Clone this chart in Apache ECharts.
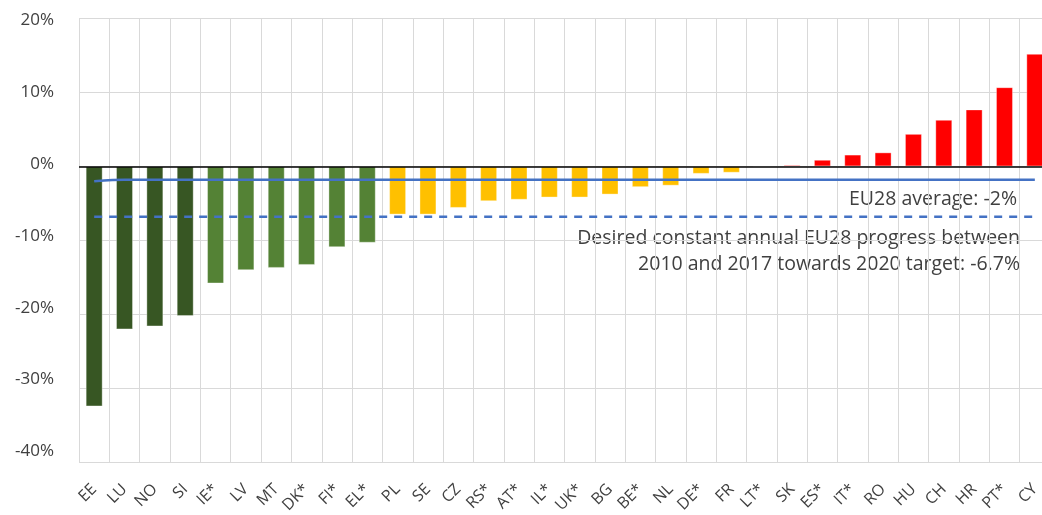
<!DOCTYPE html>
<html>
<head>
<meta charset="utf-8">
<script src="https://cdn.jsdelivr.net/npm/echarts@6/dist/echarts.min.js"></script>
<style>html,body{margin:0;padding:0;background:#fff}#c{width:1042px;height:515px}</style>
</head>
<body>
<div id="c"></div>
<script>
const categories = ['EE','LU','NO','SI','IE*','LV','MT','DK*','FI*','EL*','PL','SE','CZ','RS*','AT*','IL*','UK*','BG','BE*','NL','DE*','FR','LT*','SK','ES*','IT*','RO','HU','CH','HR','PT*','CY'];
const changeValues = [-32.4,-22.0,-21.6,-20.2,-15.8,-14.0,-13.7,-13.3,-10.9,-10.3,-6.5,-6.5,-5.6,-4.7,-4.5,-4.2,-4.2,-3.8,-2.8,-2.6,-1.0,-0.85,0,0.2,0.9,1.6,1.9,4.4,6.3,7.7,10.7,15.2];
const groupIndex = [0,0,0,0,1,1,1,1,1,1,2,2,2,2,2,2,2,2,2,2,2,2,2,3,3,3,3,3,3,3,3,3];
const groupColors = ['#375623','#548235','#FFC000','#FF0000'];
const avgValues = [-2.0,-1.8,-1.8,-1.8,-1.8,-1.8,-1.8,-1.8,-1.8,-1.8,-1.8,-1.8,-1.8,-1.8,-1.8,-1.8,-1.8,-1.8,-1.8,-1.8,-1.8,-1.8,-1.8,-1.8,-1.8,-1.8,-1.8,-1.8,-1.8,-1.8,-1.8,-1.8];
const targetValue = -6.8;
const yTicks = {min:-40, max:20, interval:10};
const avgLabel = 'EU28 average: -2%';
const targetLabel = ['Desired constant annual EU28 progress between','2010 and 2017 towards 2020 target: -6.7%'];

const font = '"Open Sans", "Noto Sans", sans-serif';
const chart = echarts.init(document.getElementById('c'));
chart.setOption({
  animation:false,
  grid:[
    {left:79, top:18.3, width:971, height:444.4, outerBoundsMode:'none', containLabel:false},
    {left:79, top:20, width:971, height:431.5, outerBoundsMode:'none', containLabel:false}
  ],
  xAxis:[{
    type:'category', data:categories, position:'bottom', gridIndex:0,
    axisLine:{show:false}, axisTick:{show:false},
    splitLine:{show:true, lineStyle:{color:'#d9d9d9', width:1}},
    axisLabel:{rotate:45, interval:0, margin:24, color:'#404040', fontSize:16, fontFamily:font}
  },{
    type:'category', data:categories, gridIndex:1, show:false
  }],
  yAxis:[{
    type:'value', min:yTicks.min, max:yTicks.max, interval:yTicks.interval, gridIndex:0,
    axisLine:{show:false}, axisTick:{show:false},
    splitLine:{lineStyle:{color:'#d9d9d9', width:1}},
    axisLabel:{show:false}
  },{
    type:'value', min:yTicks.min, max:yTicks.max, interval:yTicks.interval, gridIndex:1,
    axisLine:{show:false}, axisTick:{show:false}, splitLine:{show:false},
    axisLabel:{formatter:'{value}%', margin:25, color:'#404040', fontSize:17, fontFamily:font}
  }],
  series:[
    {
      type:'bar', barWidth:'56%',
      data:changeValues.map((v,i)=>({value:v, itemStyle:{color:groupColors[groupIndex[i]]}})),
      itemStyle:{borderColor:'rgba(255,255,255,0.35)', borderWidth:1},
      markLine:{silent:true, symbol:'none', label:{show:false},
        lineStyle:{color:'#000', width:1.5, type:'solid'}, data:[{yAxis:0}]},
      z:2
    },
    {
      type:'line', data:avgValues, symbol:'none', smooth:0.3,
      lineStyle:{color:'#4472C4', width:2.5}, z:3
    },
    {
      type:'line', data:categories.map(()=>targetValue), symbol:'none',
      lineStyle:{color:'#4472C4', width:2.5, type:[8,7]}, z:3
    }
  ],
  graphic:[
    {type:'text', right:25, top:189, style:{text:avgLabel, fill:'#404040', font:'19.5px '+font, textAlign:'right'}},
    {type:'text', right:22, top:225, style:{text:targetLabel.join('\n'), fill:'#404040', font:'19.5px '+font, textAlign:'right', lineHeight:26}}
  ]
});
</script>
</body>
</html>
